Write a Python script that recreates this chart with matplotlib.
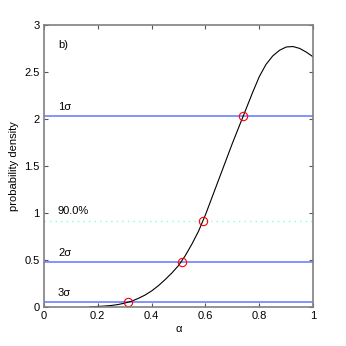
import numpy as np
import matplotlib
matplotlib.use('Agg')
import matplotlib.pyplot as plt

plt.rcParams['font.family'] = ['Liberation Sans', 'DejaVu Sans']

# posterior density of alpha
alpha = [0.17, 0.20, 0.225, 0.25, 0.275, 0.30, 0.325, 0.35, 0.375, 0.40, 0.425,
         0.45, 0.475, 0.50, 0.525, 0.55, 0.575, 0.60, 0.625, 0.65, 0.675, 0.70,
         0.725, 0.75, 0.775, 0.80, 0.825, 0.85, 0.875, 0.90, 0.925, 0.95, 0.975, 1.00]
density = [0.0, 0.005, 0.009, 0.015, 0.025, 0.04, 0.06, 0.09, 0.125, 0.17, 0.225,
           0.29, 0.36, 0.44, 0.545, 0.67, 0.81, 0.98, 1.17, 1.36, 1.55, 1.74,
           1.92, 2.10, 2.28, 2.45, 2.58, 2.67, 2.73, 2.765, 2.77, 2.75, 2.71, 2.66]

# confidence levels (horizontal lines) and crossing points
sigma_labels = ['1\u03c3', '2\u03c3', '3\u03c3']
sigma_levels = [2.03, 0.475, 0.05]
pct_label = '90.0%'
pct_level = 0.918
cross_alpha = [0.313, 0.512, 0.590, 0.741]
cross_dens = [0.05, 0.475, 0.918, 2.03]

fig = plt.figure(figsize=(3.46, 3.46), dpi=100)
ax = fig.add_axes([0.127, 0.113, 0.778, 0.815])

for lev in sigma_levels:
    ax.axhline(lev, color='#6f80ff', linewidth=1.2)
ax.axhline(pct_level, color='#7fffe8', linewidth=1.0, linestyle=(0, (1, 3)))

ax.plot(alpha, density, 'k-', linewidth=0.8)
ax.plot(cross_alpha, cross_dens, 'o', markerfacecolor='none',
        markeredgecolor='red', markersize=6, markeredgewidth=0.8)

ax.text(0.052, 2.79, 'b)', fontsize=8, va='center')
for lab, lev in zip(sigma_labels, sigma_levels):
    ax.text(0.052, lev + 0.1, lab, fontsize=8, va='center')
ax.text(0.052, pct_level + 0.1, pct_label, fontsize=8, va='center')

ax.set_xlim(0, 1)
ax.set_ylim(0, 3)
ax.set_xticks([0, 0.2, 0.4, 0.6, 0.8, 1])
ax.set_xticklabels(['0', '0.2', '0.4', '0.6', '0.8', '1'])
ax.set_yticks([0, 0.5, 1, 1.5, 2, 2.5, 3])
ax.set_yticklabels(['0', '0.5', '1', '1.5', '2', '2.5', '3'])
ax.tick_params(direction='in', top=True, right=True, labelsize=8,
               length=3, color='#555555', pad=3)
for s in ax.spines.values():
    s.set_color('#808080')
    s.set_linewidth(1.2)

ax.set_xlabel('\u03b1', fontsize=8, labelpad=2)
ax.set_ylabel('probability density', fontsize=8, labelpad=4)

plt.savefig('out.png', dpi=100)
